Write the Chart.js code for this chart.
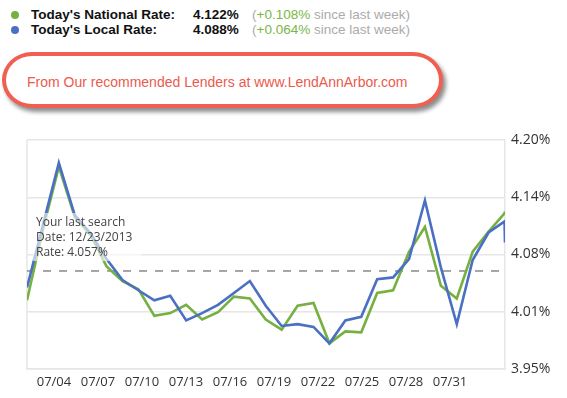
<!DOCTYPE html>
<html><head><meta charset="utf-8">
<script src="https://cdn.jsdelivr.net/npm/chart.js@4"></script>
<style>
html,body{margin:0;padding:0;background:#fff;width:567px;height:398px;overflow:hidden;position:relative;font-family:"Liberation Sans",Arial,sans-serif;}
.row{position:absolute;left:0;height:16px;line-height:16px;font-size:13.5px;white-space:nowrap;width:567px;}
.dot{position:absolute;left:11px;top:4px;width:8px;height:8px;border-radius:50%;}
.lbl{position:absolute;left:31px;font-weight:bold;color:#111;}
.val{position:absolute;left:193px;font-weight:bold;color:#111;}
.chg{position:absolute;left:252px;color:#ababab;}
.chg .up{color:#7ab648;}
#pill{position:absolute;left:2px;top:52px;width:433px;height:48px;border:4px solid #ef5f52;border-radius:30px/28px;box-shadow:3px 4px 4px rgba(0,0,0,.45);background:#fff;}
#pilltext{position:absolute;left:27px;top:73px;font-size:14px;line-height:18px;color:#ec5a4c;white-space:nowrap;}
#c{position:absolute;left:0;top:0;}
</style></head>
<body>
<div class="row" id="r1" style="top:6.5px"><span class="dot" id="d1"></span><span class="lbl" id="l1"></span><span class="val" id="v1"></span><span class="chg" id="c1"></span></div>
<div class="row" id="r2" style="top:22.2px"><span class="dot" id="d2"></span><span class="lbl" id="l2"></span><span class="val" id="v2"></span><span class="chg" id="c2"></span></div>
<div id="pill"></div>
<div id="pilltext">From Our recommended Lenders at www.LendAnnArbor.com</div>
<canvas id="c" width="567" height="398"></canvas>
<script>
// ---- data ----
const seriesNames = ["Today's National Rate:", "Today's Local Rate:"];
const todayRates = [4.122, 4.088];
const weeklyChanges = [0.108, 0.064];
const seriesColors = ['#76b041', '#4a6fc3'];

// observation index along the x axis (last point = today's update)
const obsX = [0,1,2,3,4,5,6,7,8,9,10,11,12,13,14,15,16,17,18,19,20,21,22,23,24,25,26,27,28,29,30,30.03];
const nationalRates = [4.025,4.102,4.171,4.116,4.096,4.062,4.046,4.037,4.008,4.011,4.020,4.004,4.012,4.029,4.027,4.004,3.993,4.019,4.022,3.978,3.991,3.990,4.033,4.036,4.078,4.105,4.041,4.027,4.078,4.100,4.120,4.122];
const localRates    = [4.039,4.107,4.175,4.118,4.098,4.070,4.047,4.036,4.025,4.030,4.003,4.011,4.020,4.033,4.046,4.019,3.997,3.999,3.996,3.978,4.003,4.007,4.048,4.050,4.070,4.134,4.061,3.999,4.069,4.099,4.111,4.088];

const dateTicks = ['07/04','07/07','07/10','07/13','07/16','07/19','07/22','07/25','07/28','07/31'];
const dateAxisRange = [2.16, 34.75]; // in days of July
const yTickValues = [3.95, 4.0125, 4.075, 4.1375, 4.20];
const yTickLabels = ['3.95%','4.01%','4.08%','4.14%','4.20%'];

const lastSearchDate = '12/23/2013';
const lastSearchRate = 4.057;

// ---- header ----
[1,2].forEach((n,i)=>{
  document.getElementById('d'+n).style.background = seriesColors[i];
  document.getElementById('l'+n).textContent = seriesNames[i];
  document.getElementById('v'+n).textContent = todayRates[i].toFixed(3) + '%';
  const c = weeklyChanges[i];
  document.getElementById('c'+n).innerHTML = '(<span class="up">' + (c>=0?'+':'') + c.toFixed(3) + '%</span> since last week)';
});

// ---- chart ----
Chart.defaults.font.family = '"Open Sans", sans-serif';
const GRID = '#e6e6e6';

const annot = {
  id:'annot',
  beforeDatasetsDraw(chart){
    const {ctx, chartArea:a, scales:{y}} = chart;
    ctx.save();
    ctx.strokeStyle = GRID; ctx.lineWidth = 1.5;
    ctx.beginPath(); ctx.moveTo(a.left, a.top); ctx.lineTo(a.left, a.bottom); ctx.stroke();
    const py = y.getPixelForValue(lastSearchRate);
    ctx.setLineDash([8,8]); ctx.strokeStyle = '#8a8a8a'; ctx.lineWidth = 1.5;
    ctx.beginPath(); ctx.moveTo(a.left, py); ctx.lineTo(a.right, py); ctx.stroke();
    ctx.restore();
  },
  afterDatasetsDraw(chart){
    const {ctx, chartArea:a, scales:{y}} = chart;
    const py = y.getPixelForValue(lastSearchRate);
    const lines = ['Your last search', 'Date: ' + lastSearchDate, 'Rate: ' + lastSearchRate.toFixed(3) + '%'];
    ctx.save();
    ctx.font = '12px "Open Sans", sans-serif';
    const w = Math.max(...lines.map(l=>ctx.measureText(l).width));
    ctx.fillStyle = 'rgba(255,255,255,0.6)';
    ctx.fillRect(a.left + 6, py - 58, w + 12, 48);
    ctx.fillStyle = '#444';
    ctx.textBaseline = 'middle';
    lines.forEach((l,i)=> ctx.fillText(l, a.left + 9, py - 48 + i*15));
    ctx.restore();
  }
};

new Chart(document.getElementById('c'), {
  type:'line',
  data:{ datasets:[
    {label:'Local', data: obsX.map((x,i)=>({x, y: localRates[i]})), borderColor: seriesColors[1], borderWidth:2.6, pointRadius:0, tension:0, xAxisID:'x', yAxisID:'y'},
    {label:'National', data: obsX.map((x,i)=>({x, y: nationalRates[i]})), borderColor: seriesColors[0], borderWidth:2.6, pointRadius:0, tension:0, xAxisID:'x', yAxisID:'y'}
  ]},
  options:{
    responsive:false, animation:false,
    layout:{padding:{left:27, top:140, right:0, bottom:0}},
    plugins:{legend:{display:false}, tooltip:{enabled:false}},
    scales:{
      x:{type:'linear', display:false, min: obsX[0], max: obsX[obsX.length-1]},
      dates:{type:'linear', position:'bottom', min: dateAxisRange[0], max: dateAxisRange[1],
        afterBuildTicks: s => { s.ticks = dateTicks.map(t => ({value: +t.split('/')[1]})); },
        ticks:{callback:(v,i)=>dateTicks[i], color:'#333', font:{size:13}, padding:5, maxRotation:0, autoSkip:false},
        grid:{display:false, drawTicks:false},
        border:{display:true, color:GRID, width:1.5},
        afterFit: s => { s.height = 29; }
      },
      y:{type:'linear', position:'right', min:3.95, max:4.20,
        afterBuildTicks: s => { s.ticks = yTickValues.map(v => ({value:v})); },
        ticks:{callback:(v,i)=>yTickLabels[i], color:'#333', font:{size:14}, padding:6},
        grid:{color:GRID, lineWidth:1.5, drawTicks:false},
        border:{color:GRID, width:1.5},
        afterFit: s => { s.width = 62; }
      }
    }
  },
  plugins:[annot]
});
</script>
</body></html>
